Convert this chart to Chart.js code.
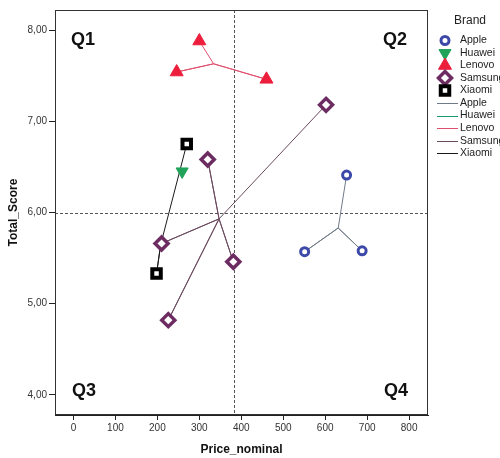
<!DOCTYPE html>
<html>
<head>
<meta charset="utf-8">
<script src="https://cdn.jsdelivr.net/npm/chart.js@4.4.1/dist/chart.umd.min.js"></script>
<style>
  html, body { margin: 0; padding: 0; background: #fff; }
  #wrap { width: 500px; height: 458px; }
</style>
</head>
<body>
<div id="wrap"><canvas id="chart" width="500" height="458"></canvas></div>
<script>
// values
const brands = ["Apple", "Huawei", "Lenovo", "Samsung", "Xiaomi"];

const appleX = [651, 551, 688];
const appleY = [6.41, 5.57, 5.58];
const huaweiX = [259];
const huaweiY = [6.45];
const lenovoX = [300, 246, 460];
const lenovoY = [7.88, 7.54, 7.46];
const samsungX = [602, 320, 210, 381, 226];
const samsungY = [7.18, 6.58, 5.66, 5.46, 4.82];
const xiaomiX = [270, 198];
const xiaomiY = [6.75, 5.33];

// group centres the spikes run to
const centerX = [631, 259, 334, 347, 208];
const centerY = [5.83, 6.45, 7.63, 5.93, 5.65];

const refX = 383;   // dashed vertical line
const refY = 6.0;   // dashed horizontal line

const xTicks = [0, 100, 200, 300, 400, 500, 600, 700, 800];
const yTicks = [4, 5, 6, 7, 8];
const quadrants = ["Q1", "Q2", "Q3", "Q4"];

const FONT = "Arial, 'Liberation Sans', sans-serif";

const allX = [appleX, huaweiX, lenovoX, samsungX, xiaomiX];
const allY = [appleY, huaweiY, lenovoY, samsungY, xiaomiY];

const markerStyle = [
  { pointStyle: "circle", radius: 4, rotation: 0, fill: "#fff", stroke: "#3c49a8", border: 3 },
  { pointStyle: "triangle", radius: 7, rotation: 180, fill: "#22a35a", stroke: "#22a35a", border: 1 },
  { pointStyle: "triangle", radius: 7.5, rotation: 0, fill: "#ec1e3c", stroke: "#ec1e3c", border: 1 },
  { pointStyle: "rectRot", radius: 6.5, rotation: 0, fill: "#fff", stroke: "#6c2c62", border: 3.5 },
  { pointStyle: "rect", radius: 6, rotation: 0, fill: "#fff", stroke: "#000", border: 4 },
];
const spikeColor = ["#6f7a88", "#1a9a6a", "#e0506e", "#6a4a5e", "#1a1a1a"];

const pts = (xs, ys) => xs.map((x, i) => ({ x: x, y: ys[i] }));

// point -> centre -> point -> centre ...
const spikes = (xs, ys, cx, cy) => {
  const out = [];
  xs.forEach((x, i) => {
    out.push({ x: x, y: ys[i] });
    out.push({ x: cx, y: cy });
  });
  return out;
};

const markerSets = brands.map((b, i) => ({
  label: b,
  data: pts(allX[i], allY[i]),
  pointStyle: markerStyle[i].pointStyle,
  pointRadius: markerStyle[i].radius,
  pointRotation: markerStyle[i].rotation,
  backgroundColor: markerStyle[i].fill,
  borderColor: markerStyle[i].stroke,
  pointBorderWidth: markerStyle[i].border,
  showLine: false,
  order: 1,
}));

const spikeSets = brands.map((b, i) => ({
  label: b + " line",
  data: spikes(allX[i], allY[i], centerX[i], centerY[i]),
  showLine: true,
  borderColor: spikeColor[i],
  borderWidth: 1,
  pointRadius: 0,
  fill: false,
  order: 2,
}));

const fmtY = v => v.toFixed(2).replace(".", ",");

const plotDecor = {
  id: "plotDecor",
  beforeDatasetsDraw(chart) {
    const { ctx, chartArea: a, scales } = chart;
    const px = Math.round(scales.x.getPixelForValue(refX)) + 0.5;
    const py = Math.round(scales.y.getPixelForValue(refY)) + 0.5;
    ctx.save();
    ctx.strokeStyle = "#555";
    ctx.lineWidth = 1;
    ctx.setLineDash([3, 2]);
    ctx.beginPath();
    ctx.moveTo(px, a.top);
    ctx.lineTo(px, a.bottom);
    ctx.moveTo(a.left, py);
    ctx.lineTo(a.right, py);
    ctx.stroke();
    ctx.setLineDash([]);

    ctx.fillStyle = "#111";
    ctx.font = "bold 18px " + FONT;
    ctx.textBaseline = "alphabetic";
    ctx.textAlign = "left";
    ctx.fillText(quadrants[0], a.left + 16, a.top + 35);
    ctx.fillText(quadrants[2], a.left + 17, a.bottom - 19);
    ctx.textAlign = "right";
    ctx.fillText(quadrants[1], a.right - 21, a.top + 35);
    ctx.fillText(quadrants[3], a.right - 20, a.bottom - 19);
    ctx.restore();
  },
  afterDraw(chart) {
    const { ctx, chartArea: a } = chart;
    ctx.save();
    ctx.strokeStyle = "#333";
    ctx.lineWidth = 1;
    ctx.strokeRect(Math.round(a.left) + 0.5, Math.round(a.top) + 0.5,
      Math.round(a.right - a.left) - 1, Math.round(a.bottom - a.top) - 1);

    // legend
    const lx = 445, tx = 460;
    ctx.fillStyle = "#222";
    ctx.font = "12px " + FONT;
    ctx.textAlign = "center";
    ctx.textBaseline = "middle";
    ctx.fillText("Brand", 470, 21);
    ctx.font = "10.5px " + FONT;
    ctx.textAlign = "left";
    brands.forEach((b, i) => {
      const y = 40.5 + i * 12.5;
      const m = markerStyle[i];
      ctx.save();
      ctx.fillStyle = m.fill;
      ctx.strokeStyle = m.stroke;
      ctx.lineWidth = m.border;
      Chart.helpers.drawPoint(ctx, {
        pointStyle: m.pointStyle,
        radius: m.radius,
        rotation: m.rotation,
        borderWidth: m.border,
      }, lx, y);
      ctx.restore();
      ctx.fillStyle = "#222";
      ctx.fillText(b, tx, y);
    });
    brands.forEach((b, i) => {
      const y = 103 + i * 12.6;
      ctx.strokeStyle = spikeColor[i];
      ctx.lineWidth = 1;
      ctx.beginPath();
      ctx.moveTo(437, Math.round(y) + 0.5);
      ctx.lineTo(458, Math.round(y) + 0.5);
      ctx.stroke();
      ctx.fillStyle = "#222";
      ctx.fillText(b, tx, y);
    });
    ctx.restore();
  },
};

new Chart(document.getElementById("chart").getContext("2d"), {
  type: "scatter",
  data: { datasets: markerSets.concat(spikeSets) },
  options: {
    responsive: false,
    animation: false,
    layout: { padding: { top: 8, right: 72, left: 0, bottom: 0 } },
    plugins: {
      legend: { display: false },
      tooltip: { enabled: false },
    },
    scales: {
      x: {
        type: "linear",
        min: -44,
        max: 845,
        afterBuildTicks: s => { s.ticks = xTicks.map(v => ({ value: v })); },
        afterFit: s => { s.height = 43; },
        grid: { drawOnChartArea: false, drawTicks: true, tickLength: 5, color: "#222" },
        border: { display: true, color: "#222" },
        ticks: { color: "#333", font: { family: FONT, size: 10 }, padding: 2, maxRotation: 0 },
        title: {
          display: true,
          text: "Price_nominal",
          color: "#111",
          font: { family: FONT, size: 12, weight: "bold" },
          padding: { top: 0, bottom: 1 },
        },
      },
      y: {
        type: "linear",
        min: 3.78,
        max: 8.22,
        afterBuildTicks: s => { s.ticks = yTicks.map(v => ({ value: v })); },
        afterFit: s => { s.width = 55; },
        grid: { drawOnChartArea: false, drawTicks: true, tickLength: 6, color: "#222" },
        border: { display: true, color: "#222" },
        ticks: { color: "#333", font: { family: FONT, size: 10 }, padding: 2, callback: v => fmtY(v) },
        title: {
          display: true,
          text: "Total_Score",
          color: "#111",
          font: { family: FONT, size: 12, weight: "bold" },
          padding: { top: 6, bottom: 0 },
        },
      },
    },
  },
  plugins: [plotDecor],
});
</script>
</body>
</html>
